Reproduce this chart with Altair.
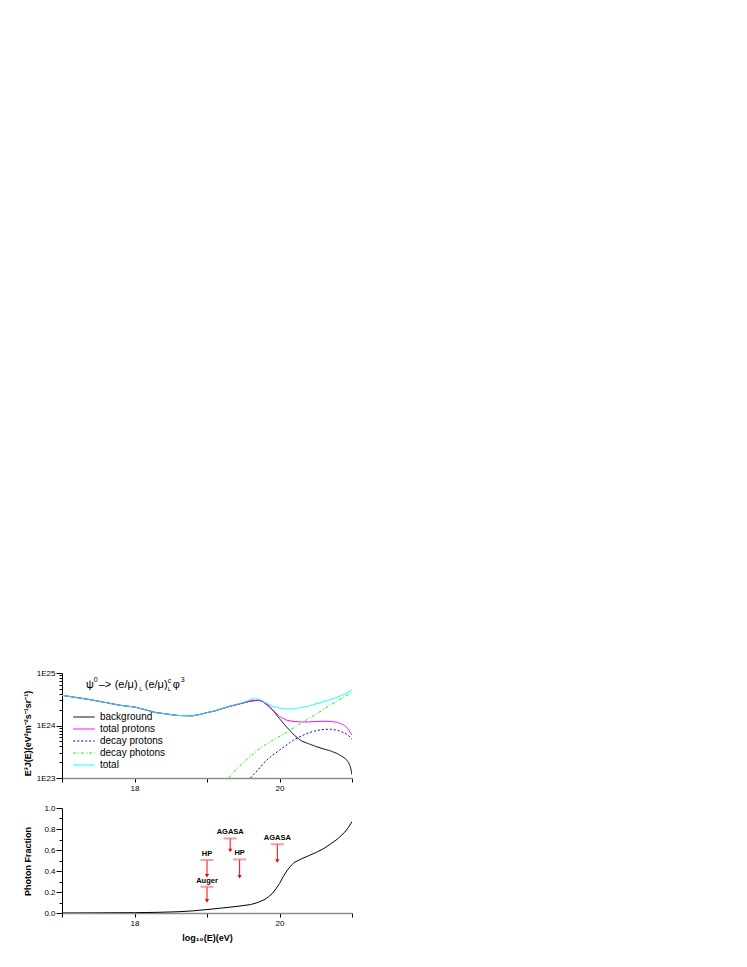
import altair as alt
import pandas as pd

FONT = "Liberation Sans"

# ---------------- top panel data (flux values in units of 1E24) ----------------
series_names = ["background", "total protons", "decay protons", "decay photons", "total"]
series_colors = ["#000000", "#ff00ff", "#0000ff", "#00ff00", "#00ffff"]
series_dash = [[1, 0], [1, 0], [2, 2], [3, 2, 1, 2], [1, 0]]

bg_E = [17.0, 17.4, 17.8, 18.0, 18.3, 18.6, 18.8, 18.9, 19.0, 19.1, 19.3, 19.5, 19.6, 19.7,
        19.76, 19.85, 19.92, 20.0, 20.1, 20.2, 20.3, 20.4, 20.5, 20.6, 20.7, 20.8, 20.9,
        20.95, 20.98, 21.0]
bg_v = [3.76, 3.09, 2.43, 2.25, 1.76, 1.55, 1.53, 1.62, 1.76, 1.88, 2.29, 2.69, 2.92, 3.02,
        2.92, 2.34, 1.86, 1.35, 0.93, 0.66, 0.51, 0.45, 0.40, 0.36, 0.33, 0.29, 0.24,
        0.20, 0.16, 0.115]

tp_E = [17.0, 17.4, 17.8, 18.0, 18.3, 18.6, 18.8, 18.9, 19.0, 19.1, 19.3, 19.5, 19.6, 19.7,
        19.76, 19.8, 19.85, 19.9, 20.0, 20.1, 20.2, 20.3, 20.4, 20.5, 20.6, 20.7, 20.8,
        20.9, 20.95, 21.0]
tp_v = [3.76, 3.09, 2.43, 2.25, 1.76, 1.55, 1.53, 1.62, 1.76, 1.88, 2.29, 2.69, 2.92, 3.02,
        2.95, 2.69, 2.45, 2.04, 1.48, 1.26, 1.19, 1.17, 1.17, 1.19, 1.20, 1.20, 1.15,
        1.00, 0.85, 0.65]

dp_E = [19.6, 19.7, 19.8, 19.9, 20.0, 20.1, 20.2, 20.3, 20.4, 20.5, 20.6, 20.7, 20.8, 20.9,
        20.95, 21.0]
dp_v = [0.100, 0.141, 0.204, 0.270, 0.339, 0.427, 0.537, 0.630, 0.724, 0.794, 0.840, 0.850,
        0.810, 0.720, 0.650, 0.540]

dg_E = [19.3, 19.4, 19.5, 19.6, 19.7, 19.8, 19.9, 20.0, 20.1, 20.2, 20.3, 20.4, 20.5, 20.6,
        20.7, 20.8, 20.9, 21.0]
dg_v = [0.100, 0.145, 0.195, 0.263, 0.339, 0.427, 0.513, 0.617, 0.741, 0.912, 1.12, 1.35,
        1.62, 2.00, 2.45, 2.95, 3.55, 4.27]

tot_E = [17.0, 17.4, 17.8, 18.0, 18.3, 18.6, 18.8, 18.9, 19.0, 19.1, 19.3, 19.5, 19.6, 19.65,
         19.72, 19.8, 19.9, 20.0, 20.1, 20.2, 20.3, 20.4, 20.5, 20.6, 20.7, 20.8, 20.9, 21.0]
tot_v = [3.76, 3.09, 2.43, 2.25, 1.76, 1.55, 1.53, 1.62, 1.76, 1.89, 2.32, 2.75, 3.09, 3.24,
         3.16, 2.75, 2.34, 2.14, 2.07, 2.09, 2.19, 2.34, 2.57, 2.82, 3.09, 3.47, 3.98, 4.68]

# ---------------- bottom panel data ----------------
pf_E = [17.0, 17.5, 18.0, 18.3, 18.6, 18.8, 19.0, 19.2, 19.4, 19.6, 19.7, 19.8, 19.85, 19.9,
        19.95, 20.0, 20.05, 20.1, 20.15, 20.2, 20.3, 20.4, 20.5, 20.6, 20.7, 20.8, 20.9,
        20.95, 21.0]
pf_v = [0.0, 0.001, 0.003, 0.006, 0.012, 0.02, 0.033, 0.047, 0.062, 0.08, 0.10, 0.13, 0.155,
        0.185, 0.23, 0.28, 0.345, 0.40, 0.445, 0.48, 0.515, 0.545, 0.575, 0.61, 0.655, 0.705,
        0.77, 0.815, 0.87]

lim_label = ["Auger", "HP", "AGASA", "HP", "AGASA"]
lim_E = [19.0, 19.0, 19.32, 19.45, 19.97]
lim_val = [0.25, 0.505, 0.71, 0.51, 0.655]
lim_tip = [0.115, 0.355, 0.595, 0.345, 0.495]

# annotation pieces: text, E position, flux (x1E24) baseline, font size
ann_txt = ["\u03c8", "0", "\u2013>", "(e/\u03bc)", "L", "(e/\u03bc)", "c", "L", "\u03c6", "3"]
ann_E = [17.331, 17.437, 17.506, 17.727, 18.065, 18.141, 18.458, 18.458, 18.527, 18.637]
ann_v = [5.18, 6.80, 5.18, 5.18, 4.45, 5.18, 6.40, 4.45, 5.18, 6.80]
ann_fs = [11, 7, 11, 11, 6, 11, 7, 6, 11, 7]

# ---------------- build tables ----------------
rows = []
for name, Es, vs in zip(series_names, [bg_E, tp_E, dp_E, dg_E, tot_E],
                        [bg_v, tp_v, dp_v, dg_v, tot_v]):
    for e, v in zip(Es, vs):
        rows.append({"E": e, "flux": v * 1e24, "series": name})
top_df = pd.DataFrame(rows)

ann_df = pd.DataFrame({"t": ann_txt, "E": ann_E, "flux": [v * 1e24 for v in ann_v], "fs": ann_fs})
pf_df = pd.DataFrame({"E": pf_E, "frac": pf_v})
lim_df = pd.DataFrame({"label": lim_label, "E": lim_E, "val": lim_val, "tip": lim_tip})

W, H = 290, 105

xticks = [17, 18, 19, 20, 21]
x_label_expr = "datum.value == 18 || datum.value == 20 ? format(datum.value, 'd') : ''"
x_scale = alt.Scale(domain=[17, 21], nice=False, zero=False)
ytop_scale = alt.Scale(type="log", domain=[1e23, 1e25], nice=False)

ytop_ticks = [m * 10.0 ** p for p in (23, 24) for m in range(1, 10)] + [1e25]
major_log = "abs(log(datum.value)/LN10 - round(log(datum.value)/LN10)) < 0.01"


def x_axis(title=None):
    kw = dict(values=xticks, labelExpr=x_label_expr, tickSize=4, labelPadding=2,
              domainColor="#8c8c8c", domainWidth=1.5, tickColor="#000000",
              labelFontSize=8, labelFont=FONT, labelColor="#000000", grid=False,
              labelOverlap=False)
    if title is None:
        return alt.Axis(title=None, **kw)
    return alt.Axis(title=title, titleFontSize=9, titleFont=FONT, titleFontWeight="bold",
                    titlePadding=6, titleColor="#000000", **kw)


top_axis_y = alt.Axis(
    values=ytop_ticks,
    labelExpr=major_log + " ? '1E' + round(log(datum.value)/LN10) : ''",
    tickSize={"condition": {"test": major_log, "value": 6}, "value": 3},
    domainColor="#000000", tickColor="#000000", labelFontSize=8, labelFont=FONT,
    labelColor="#000000", labelPadding=1, grid=False, labelOverlap=False,
    title="E\u00b3J(E)(eV\u00b2m\u207b\u00b2s\u207b\u00b9sr\u207b\u00b9)",
    titleFontSize=9, titleFont=FONT, titleFontWeight="bold", titleColor="#000000",
    titleX=-35, titleY=60, titleBaseline="middle", titleAngle=270,
)

leg = alt.Legend(orient="none", legendX=17, legendY=39, title=None,
                 symbolType="M-3.6,0H3.6", symbolSize=36, symbolStrokeWidth=1,
                 labelFontSize=10, labelFont=FONT, labelColor="#000000", labelOffset=11,
                 rowPadding=2, padding=0)

xt = alt.X("E:Q", scale=x_scale, axis=x_axis())

lines = alt.Chart(top_df).mark_line(strokeWidth=1, clip=True).encode(
    x=xt,
    y=alt.Y("flux:Q", scale=ytop_scale, axis=top_axis_y),
    color=alt.Color("series:N", scale=alt.Scale(domain=series_names, range=series_colors),
                    legend=leg),
    strokeDash=alt.StrokeDash("series:N", scale=alt.Scale(domain=series_names, range=series_dash),
                              legend=leg),
    detail="series:N",
)

ann = alt.Chart(ann_df).mark_text(align="left", baseline="alphabetic", font=FONT,
                                  color="#000000").encode(
    x=xt, y=alt.Y("flux:Q", scale=ytop_scale, axis=top_axis_y), text="t:N",
    size=alt.Size("fs:Q", scale=None, legend=None)
)

top = alt.layer(lines, ann).properties(width=W, height=H)

# ---------------- bottom ----------------
bot_axis_y = alt.Axis(
    values=[i / 10 for i in range(11)],
    labelExpr="round(datum.value*10) % 2 == 0 ? format(datum.value, '.1f') : ''",
    tickSize={"condition": {"test": "round(datum.value*10) % 2 == 0", "value": 6}, "value": 3},
    domainColor="#000000", tickColor="#000000", labelFontSize=8, labelFont=FONT,
    labelColor="#000000", labelPadding=1, grid=False, labelOverlap=False,
    title="Photon Fraction", titleFontSize=9, titleFont=FONT, titleFontWeight="bold",
    titleColor="#000000", titleX=-35, titleY=53, titleBaseline="middle", titleAngle=270,
)

xb = alt.X("E:Q", scale=x_scale, axis=x_axis("log\u2081\u2080(E)(eV)"))
yb_scale = alt.Scale(domain=[0, 1], nice=False)


def yb(field):
    return alt.Y(field, scale=yb_scale, axis=bot_axis_y)


pf_line = alt.Chart(pf_df).mark_line(color="#000000", strokeWidth=1, clip=True).encode(
    x=xb, y=yb("frac:Q")
)
bars = alt.Chart(lim_df).mark_tick(orient="horizontal", size=13, thickness=2,
                                   color="#ff7070").encode(x=xb, y=yb("val:Q"))
shafts = alt.Chart(lim_df).mark_rule(color="#ff0000", strokeWidth=1).encode(
    x=xb, y=yb("val:Q"), y2="tip:Q")
heads = alt.Chart(lim_df).mark_point(shape="triangle-down", filled=True, size=18,
                                     color="#ff0000", opacity=1).encode(x=xb, y=yb("tip:Q"))
labels = alt.Chart(lim_df).mark_text(baseline="bottom", dy=-2, fontSize=7.5, fontWeight="bold",
                                     font=FONT, color="#000000").encode(
    x=xb, y=yb("val:Q"), text="label:N")

bottom = alt.layer(pf_line, shafts, bars, heads, labels).properties(width=W, height=H)

chart = alt.vconcat(top, bottom, spacing=12).properties(
    padding={"left": 15, "top": 661, "right": 5, "bottom": 5}
).configure(background="#ffffff").configure_view(stroke=None)

chart.save("out.html", embed_options={"renderer": "svg", "actions": False})
